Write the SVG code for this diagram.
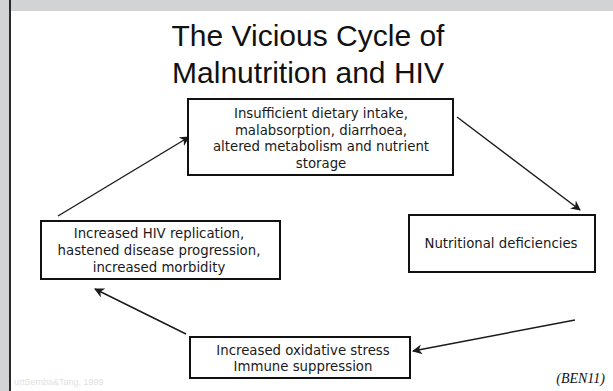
<svg xmlns="http://www.w3.org/2000/svg" width="613" height="391" viewBox="0 0 613 391">
<style>
.box{fill:#fff;stroke:#111;stroke-width:2}
.t{font-family:"DejaVu Sans",Verdana,sans-serif;font-size:13.3px;fill:#1a1a1a;text-anchor:middle}
.title{font-family:"Liberation Sans",Arial,sans-serif;font-size:30px;fill:#111;text-anchor:middle}
.c{stroke:#1a1a1a;stroke-width:1.4;fill:none;marker-end:url(#ah)}
</style>
<defs>
<marker id="ah" viewBox="0 0 10 10" refX="9" refY="5" markerWidth="10" markerHeight="10" orient="auto" markerUnits="userSpaceOnUse">
<path d="M0,0 L10,5 L0,10 L3,5 Z" fill="#1a1a1a"/>
</marker>
</defs>
<rect width="613" height="391" fill="#fff"/>
<rect x="0" y="0" width="613" height="11" fill="#d2d3d5"/>
<rect x="0" y="0" width="9" height="391" fill="#d2d3d5"/>
<rect x="9" y="0" width="2" height="391" fill="#2a2a2a"/>
<text x="14" y="385" font-family="'Liberation Sans',Arial,sans-serif" font-size="9" fill="#e2e2e2">urtSemba&amp;Tang, 1999</text>
<g id="title">
<text class="title" x="308" y="46">The Vicious Cycle of</text>
<text class="title" x="308" y="83">Malnutrition and HIV</text>
</g>
<g id="connectors">
<line class="c" x1="457" y1="117" x2="580" y2="210"/>
<line class="c" x1="575" y1="320" x2="413" y2="351"/>
<line class="c" x1="186" y1="334" x2="95" y2="289"/>
<line class="c" x1="58" y1="216" x2="189" y2="137"/>
</g>
<g id="top">
<rect class="box" x="188" y="99" width="265" height="76"/>
<text class="t" x="321" y="118">Insufficient dietary intake,</text>
<text class="t" x="321" y="134.5">malabsorption, diarrhoea,</text>
<text class="t" x="321" y="151">altered metabolism and nutrient</text>
<text class="t" x="321" y="167.5">storage</text>
</g>
<g id="right">
<rect class="box" x="409" y="215" width="186" height="57"/>
<text class="t" x="501" y="247.5">Nutritional deficiencies</text>
</g>
<g id="bottom">
<rect class="box" x="190" y="337" width="220" height="41"/>
<text class="t" x="303" y="354.5">Increased oxidative stress</text>
<text class="t" x="303" y="370.5">Immune suppression</text>
</g>
<g id="left">
<rect class="box" x="41" y="221" width="239" height="58"/>
<text class="t" x="159" y="237.5">Increased HIV replication,</text>
<text class="t" x="159" y="254.5">hastened disease progression,</text>
<text class="t" x="159" y="271.5">increased morbidity</text>
</g>
<text x="605" y="383" font-family="'Liberation Serif','Times New Roman',serif" font-style="italic" font-size="14" fill="#111" text-anchor="end">(BEN11)</text>
</svg>
